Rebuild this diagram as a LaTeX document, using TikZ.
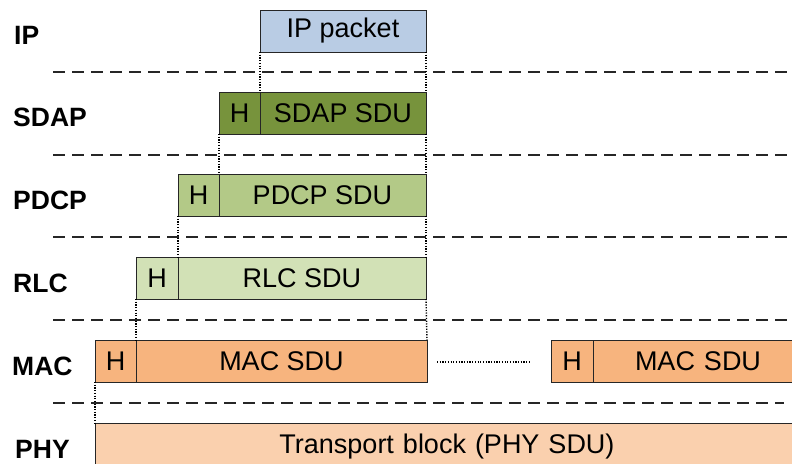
\documentclass[tikz,border=0pt]{standalone}
\usepackage{fontspec}
\setmainfont{Liberation Sans}
\begin{document}
\begin{tikzpicture}[x=1pt,y=-1pt,
  box/.style={draw=black!85,line width=1pt,inner sep=0pt,outer sep=0pt,minimum height=42pt,
    font=\fontsize{27}{29}\selectfont,anchor=center},
  lay/.style={font=\fontsize{26.5}{28}\selectfont\bfseries,anchor=west,inner sep=0pt,text depth=0pt},
  sep/.style={dash pattern=on 12pt off 7pt,line width=1.2pt,black!85},
  dots/.style={dash pattern=on 1.2pt off 1.5pt,line width=1.4pt,black}]
\definecolor{ipc}{HTML}{B9CCE4}
\definecolor{sdapc}{HTML}{77933C}
\definecolor{pdcpc}{HTML}{B3C987}
\definecolor{rlcc}{HTML}{D2E1B6}
\definecolor{macc}{HTML}{F7B47E}
\definecolor{phyc}{HTML}{FAD0AE}
\useasboundingbox (0,0) rectangle (792,463);
\clip (0,0) rectangle (792,463);
% separators
\foreach \yy/\xe in {72/792,155/792,237/792,320/792,403/784}
  \draw[sep] (53,\yy) -- (\xe,\yy);
% layer labels
\node[lay] (lip) at (14,35) {IP};
\node[lay] (lsdap) at (13,117) {SDAP};
\node[lay] (lpdcp) at (13,200) {PDCP};
\node[lay] (lrlc) at (13,283) {RLC};
\node[lay] (lmac) at (12,366) {MAC};
\node[lay] (lphy) at (15,449.5) {PHY};
% boxes
\node[box,fill=ipc,minimum width=166pt] (ip) at (343,31) {IP packet};
\node[box,fill=sdapc,minimum width=41pt] (sdaph) at (239.5,113) {H};
\node[box,fill=sdapc,minimum width=166pt] (sdaps) at (343,113) {SDAP SDU};
\node[box,fill=pdcpc,minimum width=41pt] (pdcph) at (198.5,195) {H};
\node[box,fill=pdcpc,minimum width=207pt] (pdcps) at (322.5,195) {PDCP SDU};
\node[box,fill=rlcc,minimum width=42pt] (rlch) at (157,278) {H};
\node[box,fill=rlcc,minimum width=248pt] (rlcs) at (302,278) {RLC SDU};
\node[box,fill=macc,minimum width=41pt] (mach) at (115.5,361) {H};
\node[box,fill=macc,minimum width=291pt] (macs) at (281.5,361) {MAC SDU};
\node[box,fill=macc,minimum width=42pt] (mach2) at (572,361) {H};
\node[box,fill=macc,minimum width=210pt,text width=200pt,align=center] (macs2) at (698,361) {MAC SDU};
\node[box,fill=phyc,minimum width=704pt,minimum height=48pt,text width=620pt,align=center] (phy) at (447,447) {Transport block (PHY SDU)};
% dotted mapping lines
\draw[dots] (ip.south west) -- (sdaps.north west);
\draw[dots] (ip.south east) -- (sdaps.north east);
\draw[dots] (sdaph.south west) -- (pdcps.north west);
\draw[dots] (sdaps.south east) -- (pdcps.north east);
\draw[dots] (pdcph.south west) -- (rlcs.north west);
\draw[dots] (pdcps.south east) -- (rlcs.north east);
\draw[dots] (rlch.south west) -- (macs.north west);
\draw[dots] (rlcs.south east) -- (macs.north east);
\draw[dots] (mach.south west) -- (mach.south west |- phy.north);
% continuation
\coordinate (c1) at (437,362);
\coordinate (c2) at (529,362);
\draw[dots] (c1) -- (c2);
\end{tikzpicture}
\end{document}
